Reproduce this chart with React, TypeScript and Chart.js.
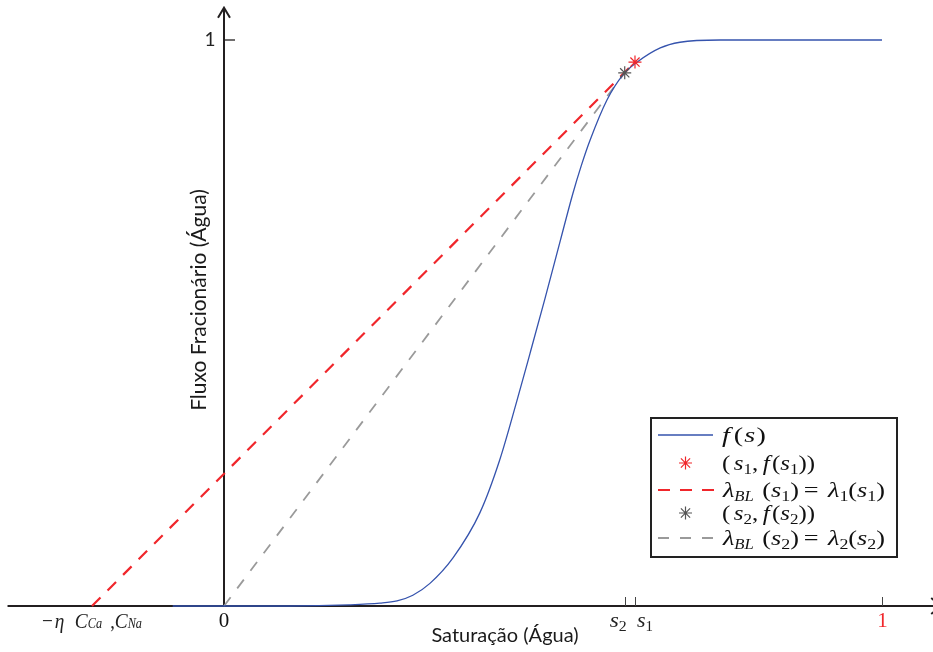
import React, { useEffect, useRef } from "react";
import { Chart, registerables } from "chart.js";

Chart.register(...registerables);

// ---- data ----
const S_VALUES = [-0.078, 0, 0.1, 0.19, 0.237, 0.263, 0.287, 0.313, 0.348, 0.389, 0.419, 0.445, 0.465, 0.488, 0.511, 0.53, 0.543, 0.556, 0.582, 0.606, 0.628, 0.663, 0.693, 0.754, 1.0];
const F_VALUES = [0, 0, 0, 0.002, 0.005, 0.009, 0.019, 0.04, 0.085, 0.165, 0.258, 0.362, 0.446, 0.544, 0.645, 0.728, 0.778, 0.822, 0.894, 0.938, 0.961, 0.986, 0.996, 1.0, 1.0];
const S1 = 0.6246;
const F1 = 0.961;
const S2 = 0.609;
const F2 = 0.942;
const ETA_C = -0.2006; // -eta C_Ca, C_Na
const X_TICKS = [S2, S1, 1];
const Y_TICKS = [1];

// axis extents (data units)
const X_MIN = -0.34043;
const X_MAX = 1.07751;
const Y_MIN = -0.08127;
const Y_MAX = 1.07067;
const X_AXIS_FROM = -0.329;
const X_AXIS_TO = 1.09;
const Y_AXIS_TO = 1.057;

const BLUE = "#3553ad";
const RED = "#f0262b";
const GRAY = "#9a9a9a";
const DARKGRAY = "#555555";
const AXIS = "#231f20";

const MATH = '"Liberation Serif", "DejaVu Serif", serif';
const SANS = 'Lato, "Liberation Sans", sans-serif';
const it = (px: number) => `italic ${px}px ${MATH}`;
const rm = (px: number) => `${px}px ${MATH}`;

type Seg = { t: string; f: string; dy?: number; dx?: number; c?: string };

function drawRich(ctx: CanvasRenderingContext2D, x: number, y: number, segs: Seg[], align: "left" | "center", targetW?: number, color = "#111") {
  let w = 0;
  for (const s of segs) {
    ctx.font = s.f;
    w += ctx.measureText(s.t).width + (s.dx || 0);
  }
  const scale = targetW ? targetW / w : 1;
  const totalW = w * scale;
  const startX = align === "center" ? x - totalW / 2 : x;
  ctx.save();
  ctx.translate(startX, y);
  ctx.scale(scale, 1);
  ctx.textAlign = "left";
  ctx.textBaseline = "alphabetic";
  let cx = 0;
  for (const s of segs) {
    ctx.font = s.f;
    ctx.fillStyle = s.c || color;
    cx += s.dx || 0;
    ctx.fillText(s.t, cx, s.dy || 0);
    cx += ctx.measureText(s.t).width;
  }
  ctx.restore();
}

function drawStar(ctx: CanvasRenderingContext2D, x: number, y: number, r: number, color: string) {
  ctx.save();
  ctx.strokeStyle = color;
  ctx.lineWidth = 1.2;
  ctx.beginPath();
  for (let k = 0; k < 4; k++) {
    const a = (k * Math.PI) / 4;
    ctx.moveTo(x - r * Math.cos(a), y - r * Math.sin(a));
    ctx.lineTo(x + r * Math.cos(a), y + r * Math.sin(a));
  }
  ctx.stroke();
  ctx.restore();
}

const axesPlugin = {
  id: "customAxes",
  beforeDatasetsDraw(chart: any) {
    const ctx: CanvasRenderingContext2D = chart.ctx;
    const xs = chart.scales.x;
    const ys = chart.scales.y;
    const X0 = xs.getPixelForValue(0);
    const Y0 = ys.getPixelForValue(0);
    ctx.save();
    ctx.strokeStyle = AXIS;
    ctx.lineWidth = 2;
    ctx.lineCap = "butt";
    // x axis
    const xa = xs.getPixelForValue(X_AXIS_FROM);
    const xb = xs.getPixelForValue(X_AXIS_TO);
    ctx.beginPath();
    ctx.moveTo(xa, Y0);
    ctx.lineTo(xb, Y0);
    ctx.moveTo(xb - 10, Y0 - 8);
    ctx.lineTo(xb, Y0);
    ctx.lineTo(xb - 10, Y0 + 8);
    ctx.stroke();
    // y axis
    const yt = ys.getPixelForValue(Y_AXIS_TO);
    ctx.beginPath();
    ctx.moveTo(X0, Y0);
    ctx.lineTo(X0, yt);
    ctx.moveTo(X0 - 6, yt + 10);
    ctx.lineTo(X0, yt);
    ctx.lineTo(X0 + 6, yt + 10);
    ctx.stroke();
    // y ticks
    ctx.lineWidth = 1.3;
    ctx.beginPath();
    for (const v of Y_TICKS) {
      const p = ys.getPixelForValue(v);
      ctx.moveTo(X0, p);
      ctx.lineTo(X0 + 11, p);
    }
    ctx.stroke();
    // x ticks
    ctx.strokeStyle = "#444";
    ctx.lineWidth = 1;
    ctx.beginPath();
    for (const v of X_TICKS) {
      const p = Math.round(xs.getPixelForValue(v)) + 0.5;
      ctx.moveTo(p, Y0);
      ctx.lineTo(p, Y0 - 9);
    }
    ctx.stroke();
    ctx.restore();
  },
  afterDraw(chart: any) {
    const ctx: CanvasRenderingContext2D = chart.ctx;
    const xs = chart.scales.x;
    const ys = chart.scales.y;
    const X0 = xs.getPixelForValue(0);
    const Y0 = ys.getPixelForValue(0);
    ctx.save();
    // y tick label "1"
    ctx.fillStyle = "#222";
    ctx.font = `19px ${SANS}`;
    ctx.textAlign = "center";
    ctx.textBaseline = "middle";
    ctx.fillText("1", X0 - 14, ys.getPixelForValue(Y_TICKS[0]));
    // x tick labels
    const base = Y0 + 21;
    drawRich(ctx, X0, base, [{ t: "0", f: rm(21) }], "center");
    const p2 = xs.getPixelForValue(S2);
    const p1 = xs.getPixelForValue(S1);
    drawRich(ctx, p2 - 15, base, [{ t: "s", f: it(22) }, { t: "2", f: rm(15), dy: 4 }], "left", 17, "#222");
    drawRich(ctx, p1 + 2, base, [{ t: "s", f: it(22) }, { t: "1", f: rm(15), dy: 4 }], "left", 16, "#222");
    const pOne = xs.getPixelForValue(1);
    drawRich(ctx, pOne + 0.5, base, [{ t: "1", f: rm(21) }], "center", undefined, RED);
    // -eta C_Ca , C_Na
    const pe = xs.getPixelForValue(ETA_C);
    drawRich(
      ctx,
      pe - 50,
      Y0 + 22,
      [
        { t: "\u2212", f: rm(22) },
        { t: "\u03b7", f: it(22), dx: 2 },
        { t: "C", f: it(22), dx: 12 },
        { t: "Ca", f: it(14), dy: 0 },
        { t: " ,", f: rm(21), dx: 4 },
        { t: "C", f: it(22) },
        { t: "Na", f: it(14) },
      ],
      "left",
      100,
      "#222"
    );
    // axis titles
    ctx.fillStyle = "#1a1a1a";
    ctx.font = `20px ${SANS}`;
    ctx.textAlign = "center";
    ctx.textBaseline = "middle";
    ctx.fillText("Saturação (Água)", 505, 636);
    ctx.save();
    ctx.translate(199, 300);
    ctx.rotate(-Math.PI / 2);
    ctx.font = `21px ${SANS}`;
    ctx.fillText("Fluxo Fracionário (Água)", 0, 0);
    ctx.restore();

    // legend
    const L = 651, T = 418, R = 897, B = 557;
    ctx.fillStyle = "#fff";
    ctx.fillRect(L, T, R - L, B - T);
    ctx.strokeStyle = "#222";
    ctx.lineWidth = 2;
    ctx.strokeRect(L, T, R - L, B - T);
    const lx0 = 658, lx1 = 713, sx = 685.5, tx = 722;
    const rows = [435, 463, 490, 513, 538];
    // row 1
    ctx.strokeStyle = BLUE;
    ctx.lineWidth = 1.3;
    ctx.setLineDash([]);
    ctx.beginPath();
    ctx.moveTo(lx0, rows[0]);
    ctx.lineTo(lx1, rows[0]);
    ctx.stroke();
    const sub = (t: string) => ({ t, f: rm(15), dy: 4 });
    drawRich(ctx, tx, rows[0] + 7, [{ t: "f", f: it(22) }, { t: "(", f: rm(22), dx: 3 }, { t: "s", f: it(22), dx: 1 }, { t: ")", f: rm(22), dx: 1 }], "left", 44);
    // row 2
    drawStar(ctx, sx, rows[1], 6.5, RED);
    drawRich(ctx, tx, rows[1] + 7, [
      { t: "(", f: rm(22) }, { t: "s", f: it(22), dx: 3 }, sub("1"), { t: ",", f: rm(22) },
      { t: "f", f: it(22), dx: 4 }, { t: "(", f: rm(22), dx: 2 }, { t: "s", f: it(22) }, sub("1"), { t: "))", f: rm(22) },
    ], "left", 93);
    // row 3
    ctx.strokeStyle = RED;
    ctx.lineWidth = 2.2;
    ctx.setLineDash([12, 10]);
    ctx.beginPath();
    ctx.moveTo(lx0, rows[2]);
    ctx.lineTo(lx1 + 2, rows[2]);
    ctx.stroke();
    ctx.setLineDash([]);
    const lamRow = (n: string): Seg[] => [
      { t: "\u03bb", f: it(22) }, { t: "BL", f: it(14), dy: 4 }, { t: "(", f: rm(22), dx: 7 }, { t: "s", f: it(22) }, sub(n), { t: ")", f: rm(22) },
      { t: "=", f: rm(22), dx: 4 }, { t: "\u03bb", f: it(22), dx: 8 }, sub(n), { t: "(", f: rm(22) }, { t: "s", f: it(22) }, sub(n), { t: ")", f: rm(22) },
    ];
    drawRich(ctx, tx + 1, rows[2] + 7, lamRow("1"), "left", 162);
    // row 4
    drawStar(ctx, sx, rows[3], 6.5, DARKGRAY);
    drawRich(ctx, tx, rows[3] + 7, [
      { t: "(", f: rm(22) }, { t: "s", f: it(22), dx: 3 }, sub("2"), { t: ",", f: rm(22) },
      { t: "f", f: it(22), dx: 4 }, { t: "(", f: rm(22), dx: 2 }, { t: "s", f: it(22) }, sub("2"), { t: "))", f: rm(22) },
    ], "left", 93);
    // row 5
    ctx.strokeStyle = GRAY;
    ctx.lineWidth = 1.8;
    ctx.setLineDash([11, 11]);
    ctx.beginPath();
    ctx.moveTo(lx0, rows[4]);
    ctx.lineTo(lx1 + 2, rows[4]);
    ctx.stroke();
    ctx.setLineDash([]);
    drawRich(ctx, tx + 1, rows[4] + 7, lamRow("2"), "left", 162);
    ctx.restore();
  },
};

export default function App() {
  const ref = useRef<HTMLCanvasElement | null>(null);
  useEffect(() => {
    if (!ref.current) return;
    const curve = S_VALUES.map((s, i) => ({ x: s, y: F_VALUES[i] }));
    const chart = new Chart(ref.current, {
      type: "scatter",
      data: {
        datasets: [
          {
            label: "(s1, f(s1))",
            data: [{ x: S1, y: F1 }],
            pointStyle: "star",
            pointRadius: 6.5,
            borderColor: RED,
            backgroundColor: RED,
            borderWidth: 1.2,
            showLine: false,
            order: 0,
          },
          {
            label: "(s2, f(s2))",
            data: [{ x: S2, y: F2 }],
            pointStyle: "star",
            pointRadius: 6.5,
            borderColor: DARKGRAY,
            backgroundColor: DARKGRAY,
            borderWidth: 1.2,
            showLine: false,
            order: 1,
          },
          {
            label: "f(s)",
            data: curve,
            showLine: true,
            borderColor: BLUE,
            borderWidth: 1.3,
            pointRadius: 0,
            cubicInterpolationMode: "monotone",
            order: 2,
          },
          {
            label: "lambda1",
            data: [{ x: ETA_C, y: 0 }, { x: S1, y: F1 }],
            showLine: true,
            borderColor: RED,
            borderWidth: 2.2,
            borderDash: [12, 10],
            pointRadius: 0,
            order: 3,
          },
          {
            label: "lambda2",
            data: [{ x: 0, y: 0 }, { x: S2, y: F2 }],
            showLine: true,
            borderColor: GRAY,
            borderWidth: 1.8,
            borderDash: [11, 11],
            pointRadius: 0,
            order: 4,
          },
        ],
      } as any,
      options: {
        responsive: false,
        maintainAspectRatio: false,
        devicePixelRatio: 1,
        animation: false,
        layout: { padding: 0, autoPadding: false },
        plugins: { legend: { display: false }, tooltip: { enabled: false } },
        scales: {
          x: { type: "linear", min: X_MIN, max: X_MAX, display: false },
          y: { type: "linear", min: Y_MIN, max: Y_MAX, display: false },
        },
      } as any,
      plugins: [axesPlugin],
    });
    return () => chart.destroy();
  }, []);
  return (
    <div style={{ position: "absolute", left: 0, top: 0, width: 933, height: 652, background: "#fff" }}>
      <canvas ref={ref} width={933} height={652} style={{ display: "block", width: 933, height: 652 }} />
    </div>
  );
}
